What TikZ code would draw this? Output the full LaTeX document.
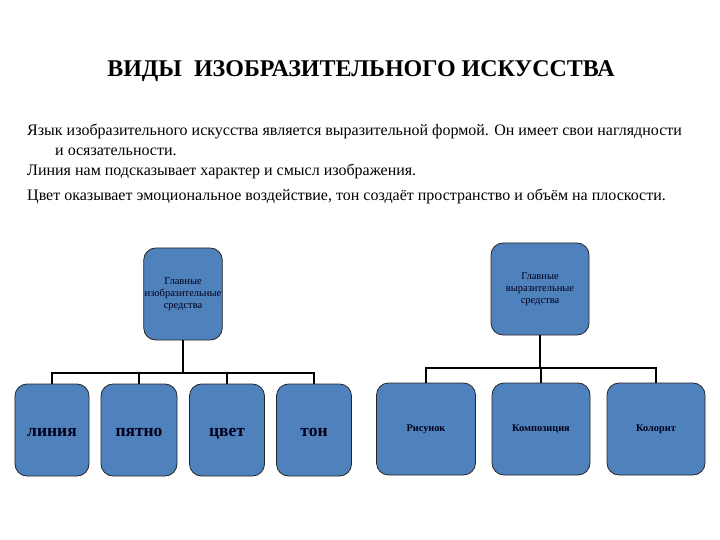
\documentclass[tikz,border=0pt]{standalone}
\usepackage{fontspec}
\setmainfont{Liberation Serif}
\definecolor{boxblue}{HTML}{4F81BD}
\begin{document}
\begin{tikzpicture}[x=1bp,y=-1bp,
  box/.style={draw=black!85, line width=0.8bp, fill=boxblue, rounded corners=12bp,
    minimum height=92bp, inner sep=1bp, align=center, text=black!90!blue},
  small/.style={font=\fontsize{10.5bp}{12bp}\selectfont},
  big/.style={font=\fontsize{17.5bp}{20bp}\selectfont\bfseries, text height=13bp, text depth=1bp},
  mid/.style={font=\fontsize{10.3bp}{12bp}\selectfont\bfseries, text height=7bp, text depth=2bp},
  link/.style={draw=black, line width=2bp},
  body/.style={anchor=base west, inner sep=0pt, font=\fontsize{16bp}{19bp}\selectfont}]
\useasboundingbox (0,0) rectangle (720,540);
\node[font=\fontsize{24bp}{28bp}\selectfont\bfseries] (title) at (361,71) {ВИДЫ\ \ ИЗОБРАЗИТЕЛЬНОГО ИСКУССТВА};
\node[body] (t1) at (27,136) {Язык изобразительного искусства является выразительной формой. Он имеет свои наглядности};
\node[body] (t2) at (55,156) {и осязательности.};
\node[body] (t3) at (27,176) {Линия нам подсказывает характер и смысл изображения.};
\node[body] (t4) at (27,201) {Цвет оказывает эмоциональное воздействие, тон создаёт пространство и объём на плоскости.};
% left tree
\node[box, small, minimum width=76bp] (lt) at (183,294) {Главные\\изобразительные\\средства};
\node[box, big, minimum width=74bp] (l1) at (52,430) {линия};
\node[box, big, minimum width=76bp] (l2) at (139,430) {пятно};
\node[box, big, minimum width=75bp] (l3) at (227,430) {цвет};
\node[box, big, minimum width=75bp] (l4) at (314,430) {тон};
\coordinate (lbar) at (0,373);
\draw[link] (lt.south) -- (lt.south |- lbar);
\draw[link] (l1.north) -- (l1.north |- lbar) -- (l4.north |- lbar) -- (l4.north);
\draw[link] (l2.north) -- (l2.north |- lbar);
\draw[link] (l3.north) -- (l3.north |- lbar);
% right tree
\node[box, small, minimum width=98bp] (rt) at (540,289) {Главные\\выразительные\\средства};
\node[box, mid, minimum width=99bp] (r1) at (426,429) {Рисунок};
\node[box, mid, minimum width=98bp] (r2) at (541,429) {Композиция};
\node[box, mid, minimum width=98bp] (r3) at (656,429) {Колорит};
\coordinate (rbar) at (0,368);
\draw[link] (rt.south) -- (rt.south |- rbar);
\draw[link] (r1.north) -- (r1.north |- rbar) -- (r3.north |- rbar) -- (r3.north);
\draw[link] (r2.north) -- (r2.north |- rbar);
\end{tikzpicture}
\end{document}
